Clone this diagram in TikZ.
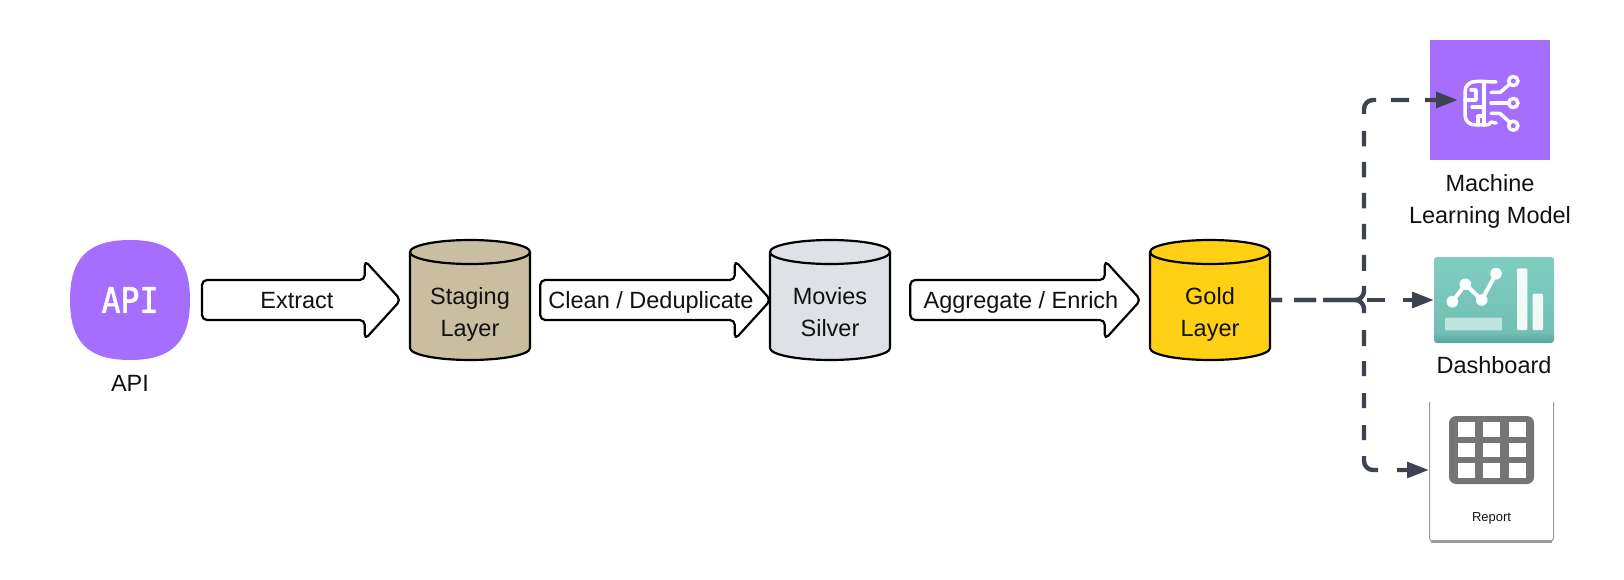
\documentclass[tikz,border=0pt]{standalone}
\usepackage{fontspec}
\setmainfont{Liberation Sans}
\newfontfamily\apimono[FakeBold=1.8]{DejaVu Sans Mono}
\usetikzlibrary{arrows.meta,calc}
\definecolor{inkc}{HTML}{111111}
\definecolor{purplec}{HTML}{A66EFF}
\definecolor{dashc}{HTML}{3D4350}
\definecolor{stagc}{HTML}{C9BFA0}
\definecolor{silvc}{HTML}{DEE2E6}
\definecolor{goldc}{HTML}{FFD013}
\definecolor{tealT}{HTML}{80CEC2}
\definecolor{tealM}{HTML}{72C0B3}
\definecolor{tealB}{HTML}{5BA99D}
\definecolor{cardc}{HTML}{9C9C9C}
\definecolor{gridc}{HTML}{757575}
\pgfdeclareverticalshading{dashgrad}{100bp}{color(0bp)=(tealB); color(26bp)=(tealB); color(31bp)=(tealM); color(75bp)=(tealT); color(100bp)=(tealT)}
\tikzset{
  lbl/.style={font=\fontsize{23.5}{32}\selectfont,text=inkc,align=center,inner sep=0pt},
  smalllbl/.style={font=\fontsize{13}{14}\selectfont,text=inkc,inner sep=0pt},
  cylbox/.style={minimum width=120pt,minimum height=120pt,inner sep=0pt},
  cylline/.style={draw=black,line width=2.2pt,line join=round},
  blockarrow/.style={draw=black,fill=white,line width=2.2pt,rounded corners=5pt,line join=round},
  dashline/.style={draw=dashc,line width=4.4pt,rounded corners=9pt,-{Triangle[length=22pt,width=15.5pt]}},
  iconline/.style={draw=white,line width=3.5pt,line cap=round,line join=round},
  plainbox/.style={inner sep=0pt,outer sep=0pt}
}
\newcommand{\dbcyl}[4]{%
  \node[cylbox] (#1) at (#2,300) {};
  \draw[cylline,fill=#3] (#2-60,252) -- (#2-60,348)
     arc[start angle=180,end angle=360,x radius=60pt,y radius=12pt] -- (#2+60,252)
     arc[start angle=0,end angle=180,x radius=60pt,y radius=12pt] -- cycle;
  \draw[cylline] (#2-60,252) arc[start angle=180,end angle=360,x radius=60pt,y radius=12pt];
  \node[lbl] (#1t) at (#2,316.5) {#4\strut};
}
% name, from point, to point, label
\newcommand{\blockarr}[4]{%
  \coordinate (#1a) at (#2);
  \coordinate (#1b) at (#3);
  \draw[blockarrow] ($(#1a)+(0,-20)$) -- ($(#1b)+(-33,-20)$) -- ($(#1b)+(-33,-39.5)$) -- ($(#1b)+(3,0)$)
     -- ($(#1b)+(-33,39.5)$) -- ($(#1b)+(-33,20)$) -- ($(#1a)+(0,20)$) -- cycle;
  \node[lbl] (#1t) at ($($(#1a)!.5!(#1b)$)+(-3,2)$) {#4\strut};
}
\begin{document}
\begin{tikzpicture}[x=1pt,y=-1pt]
\useasboundingbox (0,0) rectangle (1624,580);
% API
\node[plainbox,minimum size=120pt] (api) at (130,300) {};
\fill[purplec] (130,240) .. controls (172,240) and (190,258) .. (190,300)
  .. controls (190,342) and (172,360) .. (130,360)
  .. controls (88,360) and (70,342) .. (70,300)
  .. controls (70,258) and (88,240) .. (130,240) -- cycle;
\node[plainbox,text=white,font=\apimono\fontsize{35}{35}\selectfont,xscale=.9] (apii) at (130,300) {API};
\node[lbl] (apil) at (130,383) {API};
% Cylinders
\dbcyl{stag}{470}{stagc}{Staging\\Layer}
\dbcyl{silv}{830}{silvc}{Movies\\Silver}
\dbcyl{gold}{1210}{goldc}{Gold\\Layer}
% Block arrows
\blockarr{ext}{$(api.east)+(12,0)$}{$(stag.west)+(-12,0)$}{Extract}
\blockarr{cln}{$(stag.east)+(10,0)$}{$(silv.west)+(-2,0)$}{Clean / Deduplicate}
\blockarr{agg}{$(silv.east)+(20,0)$}{$(gold.west)+(-12,0)$}{Aggregate / Enrich}
% ML
\node[plainbox,fill=purplec,minimum size=120pt] (ml) at (1490,100) {};
\node[lbl] (mll) at (1490,201.5) {Machine\\Learning Model};
\begin{scope}[iconline]
  \draw (1484,81.5) -- (1476,81.5) .. controls (1469,81.5) and (1465,86) .. (1465,92)
     -- (1465,115) .. controls (1465,121) and (1469,125) .. (1476,125) -- (1484,125)
     .. controls (1488,125) and (1490,124.5) .. (1491,122);
  \draw (1484,81.5) .. controls (1488,81.5) and (1490,82) .. (1496,82);
  \draw (1484,81.5) -- (1484,125);
  \draw (1491,122) -- (1496,123);
  \draw (1471,90) -- (1476,90) -- (1476,100) -- (1465,100);
  \draw (1472,107) -- (1484,107);
  \draw (1478,125) -- (1478,116) -- (1484,116);
  \draw (1491,92.5) -- (1500,92.5) -- (1510,84);
  \draw (1491,103) -- (1509,103);
  \draw (1491,113.5) -- (1500,113.5) -- (1510,122.5);
  \draw (1513.3,81) circle[radius=4.6pt];
  \draw (1513.3,103) circle[radius=4.6pt];
  \draw (1513.3,125.7) circle[radius=4.6pt];
\end{scope}
\coordinate (mlin) at (1458,100);
% Dashboard
\node[plainbox,minimum width=120pt,minimum height=86pt] (dash) at (1494,300) {};
\shade[shading=dashgrad,rounded corners=3pt] (1434,257) rectangle (1554,343);
\draw[white,line width=4pt,line join=round] (1452.3,301.7) -- (1465.3,284.3) -- (1481.7,300) -- (1496,273.7);
\foreach \cx/\cy in {1452.3/301.7,1465.3/284.3,1481.7/300,1496/273.7}
  \fill[white] (\cx,\cy) circle[radius=5.8pt];
\fill[white,opacity=.9,rounded corners=1pt] (1517,268.3) rectangle (1527.3,330);
\fill[white,opacity=.9,rounded corners=1pt] (1532.7,293.7) rectangle (1543,330);
\fill[white,opacity=.55,rounded corners=1pt] (1445,317.7) rectangle (1502,330.3);
\node[lbl] (dashl) at (1494,365) {Dashboard};
% Report
\node[plainbox,minimum width=125pt,minimum height=140pt] (rep) at (1491.5,472) {};
\draw[cardc,line width=1pt,rounded corners=3pt] (1429.5,402) -- (1429.5,541) -- (1553.5,541) -- (1553.5,402);
\draw[cardc,line width=2.5pt,rounded corners=3pt] (1431,541.5) -- (1552,541.5);
\fill[gridc,rounded corners=7pt] (1449,416) rectangle (1534,484);
\foreach \gx in {1458.3,1483.4,1509}
  \foreach \gy in {422.3,442.7,463.2}
    \fill[white] (\gx,\gy) rectangle ++(17,14.5);
\node[smalllbl] (repl) at (1491.5,518) {Report};
% Dashed connectors
\coordinate (busT) at (1364,100);
\coordinate (busM) at (1364,300);
\coordinate (busB) at (1364,470);
\draw[dashline,dash pattern=on 12pt off 12pt on 22pt off 7pt on 51pt off 15pt on 16pt off 15.5pt on 15.5pt off 15.5pt on 15.5pt off 15.5pt on 15.5pt off 15.5pt on 15.5pt off 17pt on 22pt off 15pt on 18pt off 16pt on 60pt]
  (gold.east) -- (busM) -- (busT) -- (mlin);
\draw[dashline,dash pattern=on 7pt off 18pt on 18pt off 18pt on 18pt off 18pt on 18pt off 18pt on 60pt]
  (gold.east) -- (dash.west);
\draw[dashline,dash pattern=on 12pt off 12pt on 22pt off 7pt on 50pt off 17pt on 16pt off 15pt on 15pt off 17pt on 15pt off 17pt on 15pt off 16pt on 24pt off 19pt on 60pt]
  (gold.east) -- (busM) -- (busB) -- (busB -| rep.west);
\end{tikzpicture}
\end{document}
